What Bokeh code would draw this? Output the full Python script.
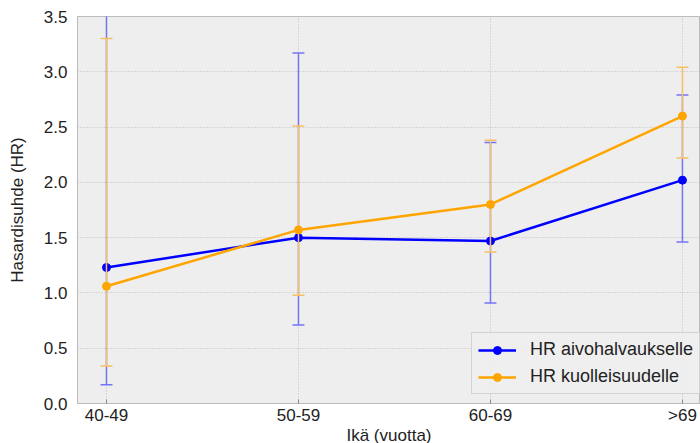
from bokeh.plotting import figure
from bokeh.models import FixedTicker, Range1d, Legend, LegendItem
from bokeh.embed import file_html
from bokeh.resources import INLINE

categories = ["40-49", "50-59", "60-69", ">69"]
hr_stroke = [1.23, 1.50, 1.47, 2.02]
hr_stroke_lo = [0.17, 0.71, 0.91, 1.46]
hr_stroke_hi = [8.50, 3.17, 2.36, 2.79]
hr_death = [1.06, 1.57, 1.80, 2.60]
hr_death_lo = [0.34, 0.98, 1.37, 2.22]
hr_death_hi = [3.30, 2.51, 2.38, 3.04]
y_ticks = [0.0, 0.5, 1.0, 1.5, 2.0, 2.5, 3.0, 3.5]

xs = list(range(len(categories)))
FONT = "Liberation Sans"
TXT = "#222222"

p = figure(frame_width=623, frame_height=387, min_border_left=77, min_border_right=0,
           min_border_top=16, min_border_bottom=40,
           output_backend="svg", toolbar_location=None,
           x_range=Range1d(-0.151, 3.094), y_range=Range1d(0, 3.5))

p.background_fill_color = "#eeeeee"
p.border_fill_color = "white"
p.outline_line_color = "#bcbcbc"
p.outline_line_width = 1

for g in (p.xgrid, p.ygrid):
    g.grid_line_color = "#b2b2b2"
    g.grid_line_dash = "1 2"
    g.grid_line_alpha = 0.8
    g.grid_line_width = 1

p.xaxis.ticker = FixedTicker(ticks=xs)
p.xaxis.major_label_overrides = {i: c for i, c in enumerate(categories)}
p.yaxis.ticker = FixedTicker(ticks=y_ticks)
p.yaxis.major_label_overrides = {t: f"{t:.1f}" for t in y_ticks}
p.xaxis.minor_tick_line_color = None
p.yaxis.minor_tick_line_color = None
p.yaxis.major_tick_line_color = None
p.xaxis.major_tick_in = 4
p.xaxis.major_tick_out = 0
p.xaxis.major_tick_line_color = "#888888"
for ax in (p.xaxis, p.yaxis):
    ax.axis_line_color = "#bcbcbc"
    ax.major_label_text_font = FONT
    ax.major_label_text_font_size = "17px"
    ax.major_label_text_color = TXT
    ax.axis_label_text_font = FONT
    ax.axis_label_text_font_size = "17px"
    ax.axis_label_text_font_style = "normal"
    ax.axis_label_text_color = TXT
p.xaxis.major_label_standoff = 2
p.xaxis.axis_label_standoff = -2
p.yaxis.major_label_standoff = 4
p.yaxis.axis_label_standoff = 14
p.xaxis.axis_label = "Ikä (vuotta)"
p.yaxis.axis_label = "Hasardisuhde (HR)"

items = []
for vals, lo, hi, col, ecol, label in [
    (hr_stroke, hr_stroke_lo, hr_stroke_hi, "#0000ff", "#7474f6", "HR aivohalvaukselle"),
    (hr_death, hr_death_lo, hr_death_hi, "#ffa500", "#f6c063", "HR kuolleisuudelle"),
]:
    p.segment(x0=xs, y0=lo, x1=xs, y1=hi, line_color=ecol, line_width=1.5)
    p.scatter(x=xs, y=lo, marker="dash", size=12, line_color=ecol, line_width=1.5)
    p.scatter(x=xs, y=hi, marker="dash", size=12, line_color=ecol, line_width=1.5)
    r1 = p.line(x=xs, y=vals, line_color=col, line_width=2.5)
    r2 = p.scatter(x=xs, y=vals, marker="circle", size=8, fill_color=col, line_color=col)
    items.append(LegendItem(label=label, renderers=[r1, r2]))

legend = Legend(items=items, location=(394, 9), margin=0)
legend.label_text_font = FONT
legend.label_text_font_size = "18px"
legend.label_text_color = TXT
legend.glyph_width = 38
legend.glyph_height = 20
legend.label_height = 20
legend.label_standoff = 14
legend.spacing = 6
legend.padding = 6
legend.background_fill_color = "#eeeeee"
legend.background_fill_alpha = 0.85
legend.border_line_color = "#cccccc"
legend.border_line_alpha = 0.8
p.add_layout(legend, "center")

open("out.html", "w").write(file_html(p, INLINE))
